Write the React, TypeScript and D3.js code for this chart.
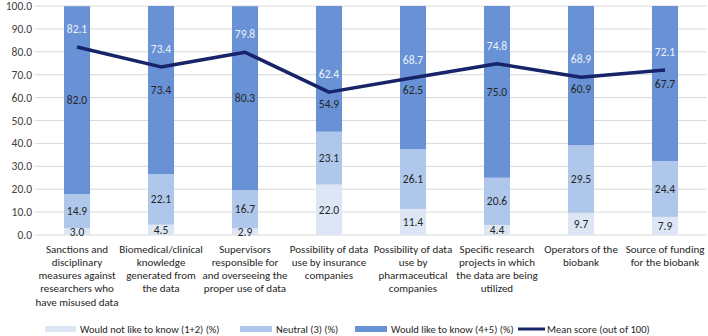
import * as d3 from 'd3';

const categories = [
  ['Sanctions and', 'disciplinary', 'measures against', 'researchers who', 'have misused data'],
  ['Biomedical/clinical', 'knowledge', 'generated from', 'the data'],
  ['Supervisors', 'responsible for', 'and overseeing the', 'proper use of data'],
  ['Possibility of data', 'use by insurance', 'companies'],
  ['Possibility of data', 'use by', 'pharmaceutical', 'companies'],
  ['Specific research', 'projects in which', 'the data are being', 'utilized'],
  ['Operators of the', 'biobank'],
  ['Source of funding', 'for the biobank'],
];
const notLike = [3.0, 4.5, 2.9, 22.0, 11.4, 4.4, 9.7, 7.9];
const neutral = [14.9, 22.1, 16.7, 23.1, 26.1, 20.6, 29.5, 24.4];
const like = [82.0, 73.4, 80.3, 54.9, 62.5, 75.0, 60.9, 67.7];
const meanScore = [82.1, 73.4, 79.8, 62.4, 68.7, 74.8, 68.9, 72.1];
const yTicks = [0, 10, 20, 30, 40, 50, 60, 70, 80, 90, 100];

const seriesKeys = ['notLike', 'neutral', 'like'];
const seriesNames = ['Would not like to know (1+2) (%)', 'Neutral (3) (%)', 'Would like to know (4+5) (%)'];
const seriesColors = ['#dce6f5', '#afc7ea', '#6892d5'];
const lineColor = '#17246a';
const font = 'Carlito, Lato, sans-serif';

export default function App() {
  const width = 708;
  const height = 336;
  const margin = { top: 6, right: 1, bottom: 101, left: 35 };

  const rows = categories.map((c, i) => ({
    i,
    notLike: notLike[i],
    neutral: neutral[i],
    like: like[i],
  }));

  const x = d3.scaleBand<number>()
    .domain(rows.map(r => r.i))
    .range([margin.left, width - margin.right])
    .paddingInner(0.69)
    .paddingOuter(0.345);
  const y = d3.scaleLinear()
    .domain([0, 100])
    .range([height - margin.bottom, margin.top]);
  const clampY = (v: number) => y(Math.min(v, 100));
  const cx = (i: number) => x(i)! + x.bandwidth() / 2;

  const stacked = d3.stack<any>().keys(seriesKeys)(rows);
  const line = d3.line<number>()
    .x((_, i) => cx(i))
    .y(d => y(d));

  // segment labels sit mid-segment, but drop below the mean line when they'd collide with it
  const labelY = (d: any, i: number, key: string) => {
    const mid = (clampY(d[0]) + clampY(d[1])) / 2;
    if (key !== 'like') return mid;
    const ly = y(meanScore[i]);
    if (Math.abs(mid - ly) < 10 || Math.abs(mid - (ly - 18)) < 10) return ly + 12;
    return mid;
  };

  const legendItems = [
    { name: seriesNames[0], color: seriesColors[0], x: 45, w: 31 },
    { name: seriesNames[1], color: seriesColors[1], x: 240, w: 32 },
    { name: seriesNames[2], color: seriesColors[2], x: 355, w: 32 },
  ];

  return (
    <svg width={width} height={height} style={{ position: 'fixed', left: 0, top: 0, background: '#fff' }} fontFamily={font}>
      {/* grid + y axis */}
      {yTicks.map(t => (
        <g key={t}>
          <line x1={margin.left} x2={width - margin.right} y1={y(t)} y2={y(t)} stroke="#d9d9d9" strokeWidth={1} />
          <text x={32} y={y(t)} textAnchor="end" dominantBaseline="central" fontSize={11.5} fill="#404040">
            {t.toFixed(1)}
          </text>
        </g>
      ))}

      {/* stacked bars */}
      {stacked.map((s, si) => (
        <g key={s.key}>
          {s.map((d, i) => (
            <rect
              key={i}
              x={x(i)}
              y={clampY(d[1])}
              width={x.bandwidth()}
              height={clampY(d[0]) - clampY(d[1])}
              fill={seriesColors[si]}
            />
          ))}
        </g>
      ))}

      {/* mean score line */}
      <path d={line(meanScore) || ''} fill="none" stroke={lineColor} strokeWidth={3.5} strokeLinejoin="round" />

      {/* segment labels */}
      {stacked.map(s => (
        <g key={'l' + s.key}>
          {s.map((d, i) => (
            <text
              key={i}
              x={cx(i)}
              y={labelY(d, i, s.key)}
              textAnchor="middle"
              dominantBaseline="central"
              fontSize={11.5}
              fill="#262626"
            >
              {(d[1] - d[0]).toFixed(1)}
            </text>
          ))}
        </g>
      ))}

      {meanScore.map((v, i) => (
        <text
          key={'m' + i}
          x={cx(i)}
          y={y(v) - 18}
          textAnchor="middle"
          dominantBaseline="central"
          fontSize={11.5}
          fill="#eef3fb"
        >
          {v.toFixed(1)}
        </text>
      ))}

      {/* category labels */}
      {categories.map((lines, i) => (
        <text key={'c' + i} x={cx(i)} y={249} textAnchor="middle" fontSize={11} fill="#262626">
          {lines.map((ln, li) => (
            <tspan key={li} x={cx(i)} y={249 + li * 13.3} dominantBaseline="central">
              {ln}
            </tspan>
          ))}
        </text>
      ))}

      {/* legend */}
      {legendItems.map(it => (
        <g key={it.name}>
          <rect x={it.x} y={326} width={it.w} height={6} fill={it.color} />
          <text x={it.x + it.w + 4} y={329} dominantBaseline="central" fontSize={10.5} fill="#262626">{it.name}</text>
        </g>
      ))}
      <line x1={518} x2={545} y1={329} y2={329} stroke={lineColor} strokeWidth={3} />
      <text x={547} y={329} dominantBaseline="central" fontSize={10.5} fill="#262626">Mean score (out of 100)</text>
    </svg>
  );
}
